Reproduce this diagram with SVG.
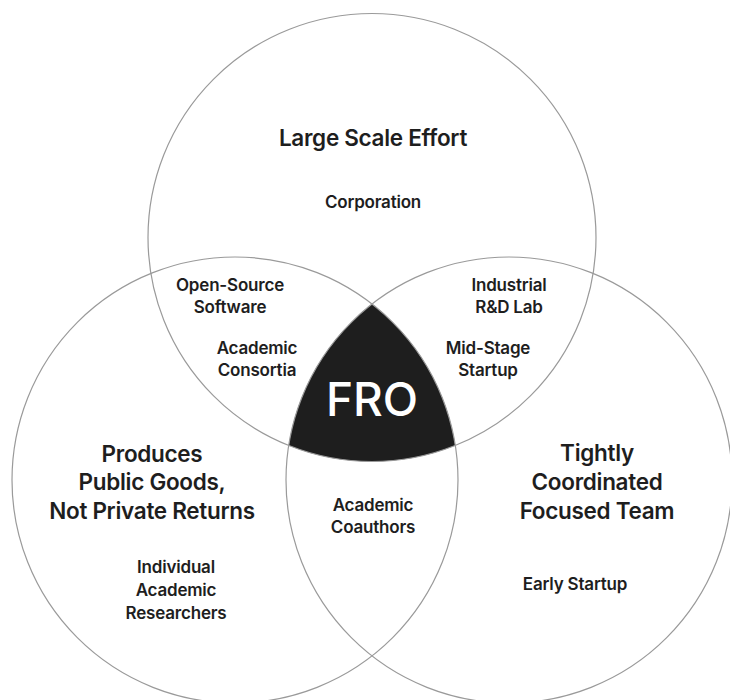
<svg xmlns="http://www.w3.org/2000/svg" width="730" height="700" viewBox="0 0 730 700">
<style>
.c{fill:none;stroke:#9a9a9a;stroke-width:1.2}
text{font-family:Inter,"Liberation Sans",Arial,sans-serif;fill:#1e1e1e;text-anchor:middle;font-weight:600}
.t{font-size:22.5px;letter-spacing:-0.3px}
.l{font-size:17px;letter-spacing:-0.2px}
.f{font-size:46px;fill:#ffffff;font-weight:500}
</style>
<rect width="730" height="700" fill="#ffffff"/>
<g id="fro-region">
<path d="M372 304.05 A223 223 0 0 1 455.3 445.5 A224 224 0 0 1 288.7 445.5 A223 223 0 0 1 372 304.05 Z" fill="#1e1e1e"/>
</g>
<g id="circles">
<circle id="c-top" class="c" cx="372" cy="237.5" r="224"/>
<circle id="c-left" class="c" cx="235" cy="480" r="223"/>
<circle id="c-right" class="c" cx="509" cy="480" r="223"/>
</g>
<g id="large-scale"><text class="t" x="373" y="146">Large Scale Effort</text><text class="l" x="373" y="208">Corporation</text></g>
<g id="open-source"><text class="l" x="230" y="291">Open-Source</text><text class="l" x="230" y="313">Software</text></g>
<g id="academic-consortia"><text class="l" x="257" y="354">Academic</text><text class="l" x="257" y="376">Consortia</text></g>
<g id="industrial"><text class="l" x="509" y="291">Industrial</text><text class="l" x="509" y="313">R&amp;D Lab</text></g>
<g id="mid-stage"><text class="l" x="488" y="354">Mid-Stage</text><text class="l" x="488" y="376">Startup</text></g>
<g id="fro"><text class="f" x="372" y="416">FRO</text></g>
<g id="public-goods"><text class="t" x="152" y="462">Produces</text><text class="t" x="152" y="490">Public Goods,</text><text class="t" x="152" y="519">Not Private Returns</text></g>
<g id="tightly"><text class="t" x="597" y="461">Tightly</text><text class="t" x="597" y="490">Coordinated</text><text class="t" x="597" y="519">Focused Team</text></g>
<g id="coauthors"><text class="l" x="373" y="511">Academic</text><text class="l" x="373" y="533">Coauthors</text></g>
<g id="individual"><text class="l" x="176" y="573">Individual</text><text class="l" x="176" y="596">Academic</text><text class="l" x="176" y="619">Researchers</text></g>
<g id="early-startup"><text class="l" x="575" y="590">Early Startup</text></g>
</svg>
